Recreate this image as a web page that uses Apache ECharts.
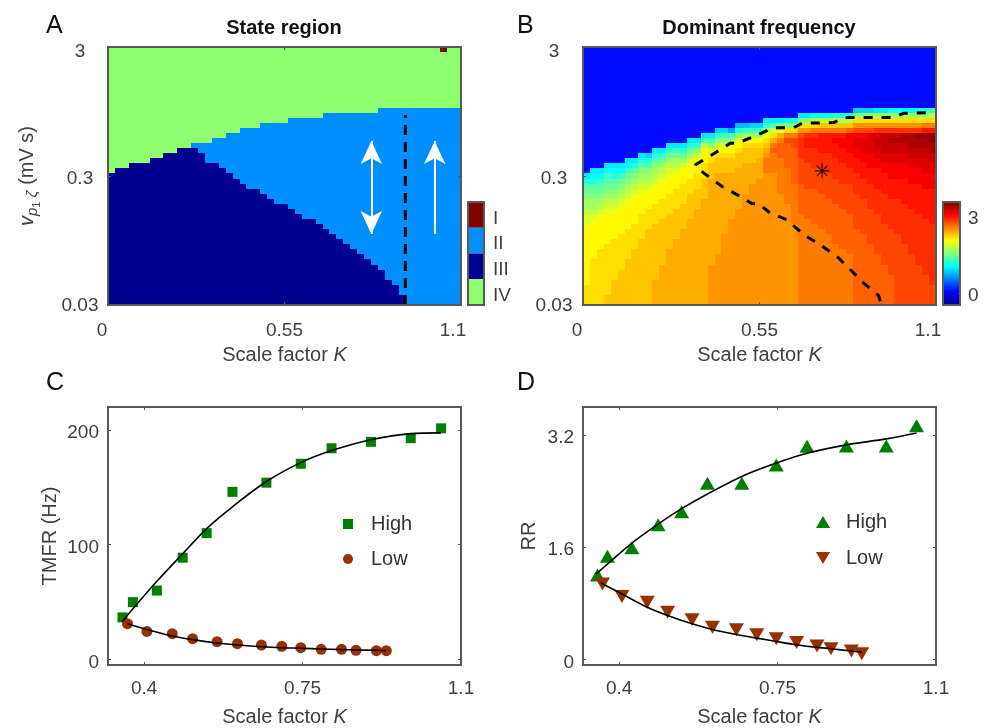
<!DOCTYPE html>
<html><head><meta charset="utf-8">
<script src="https://cdn.jsdelivr.net/npm/echarts@6/dist/echarts.min.js"></script>
<style>html,body{margin:0;padding:0;background:#fff}#c{width:992px;height:728px}</style>
</head><body><div id="c"></div>
<script>
// ---------- data ----------
const stateLabels = ['IV','III','II','I'];
// Panel A: for each of 51 K columns, rows (from the bottom) that are not state IV
const nonIVTop = [26,27,27,28,28,28,29,29,30,30,31,31,32,32,32,33,33,34,34,35,35,35,36,36,36,36,37,37,37,37,37,38,38,38,38,38,38,38,38,39,39,39,39,39,39,39,39,39,39,39,39];
// Panel A: for each column, rows (from the bottom) that are state III
const stateIIITop = [26,27,27,28,28,28,29,29,30,30,31,31,31,30,28,28,27,26,25,24,23,23,22,21,20,20,19,18,17,17,16,15,14,13,12,11,10,9,8,7,5,4,2,0,0,0,0,0,0,0,0];
const stateICell = [48,50];
// Panel B: dominant frequency, one string per column, bottom to top, base-36 tenths
const freqColumns = [
"mmmmlllllllllllkjjihhgfeca",
"mmmmmmmmmlllllllkjihhgfecba",
"mmmmmmmmmmmllllllkjihgfedba",
"nnmmmmmmmmmmllllllkjihgfedba",
"nnnnnmmmmmmmmlllllkjihgfecba",
"nnnnnnnmmmmmmmlllllkjihgfdba",
"nnnnnnnnnmmmmmmlllllkjihgfdba",
"nnnnnnnnnnnmmmmmlllllkjihgeca",
"nnnnnnnnnnnnnmmmmmllllkjihgeca",
"nnnnnnnnnnnnnnnmmmmlllkjihgec9",
"ooooonnnnnnnnnnnmmmmlllkjihgeca",
"oooooooonnnnnnnnnmmmmlllkjihfda",
"ooooooooooonnnnnnnmmmmlllkjihfda",
"ooooooooooooonnnnnnmmmmllljihfda",
"ooooooooooooooonnnnnmmmmllljhfca",
"ooooooooooooooooonnnnnmmmllljhfca",
"ooooooooooooooooooonnnnmmmllljgda",
"ooooooooooooooooooooonnnnmmmllliea",
"ppppppppooooooooooooooooonnnmljgda",
"ppppppppppoooooooooooooooonnnmljgd9",
"ppppppppppppppoooooooooooonnnmljgd9",
"pppppppppppppppppooooooooonnnmlkgd7",
"pppppppppppppppppppoooooooonnnmlkgc8",
"ppppppppppppppppppppppoooooonnnmlhd8",
"ppppppppppppppppppppppppoooonnnmlhd9",
"pppppppppppppppppppppppppoooonnmlhd9",
"ppppppppppppppppppppppppppqqqponmlhda",
"ppppppppppppppppppppppppppqqqqrqomjea",
"ppppppppppppppppppppppqqqqqqqrrrqolfa",
"ppppppppppppppppppppqqqqqqqrrrrrsqmgb",
"ppppppppppppppppqqqqqqqqrrrrrrrssqmgb",
"qqqqqqqqqqqqqqqqqqrrrrrrsssssttttspmga",
"qqqqqqqqqqqqqqqqqrrrrrrsssssttt"+"uutpmga",
"qqqqqqqqqqqqqqqqrrrrrrrssssttttuutqmhb",
"qqqqqqqqqqqqqqqrrrrrrrsssssttt"+"uuuuqnib",
"qqqqqqqqqqqqqqrrrrrrrsssssttttuuuuqnib",
"qqqqqqqqqqqqrrrrrrrrsssssttttuuuvuqnic",
"qqqqqqqqqqqrrrrrrrrsssssttttuuuvvuqnic",
"qqqqqqqqqqrrrrrrrrssssssttt"+"uuuvvvvrnic",
"rrrrrrrrrrrrrrrsssssssttttuuuvvwwvspmg9",
"rrrrrrrrrrrrrrsssssssttttuuuvvwwwvspmg9",
"rrrrrrrrrrrrsssssssttttt"+"uuuvvvwwwwspmg9",
"rrrrrrrrrrssssssssttttt"+"uuuuvvwwxxwtpmha",
"rrrrrrrrssssssssttttttuuuuvvwwxxxxtpmha",
"rrrrrrsssssssssttttttuuuuvvvwwxxyxtpmhb",
"ssssssssssssssttttttt"+"uuuuvvvwwxxyxtpmhb",
"sssssssssssstttttttt"+"uuuuuvvvwwxxyytpmhb",
"sssssssssstttttttttuuuuuvvvwwxxyyytpmhb",
"sssssssstttttttttt"+"uuuuuuvvvwwxxyyztpmhc",
"sssssstttttttttttuuuuuuvvvwwwxxyyzuqmhc",
"sssstttttttttttt"+"uuuuuuuvvvwwxxyyzzuqmid"
];
const freqTicks = [0,3];
const kTicksMap = [0,0.55,1.1];
const kTickLabelsMap = ['0','0.55','1.1'];
const decadeTicks = [0,1,2];
const vTickLabels = ['0.03','0.3','3'];
// Panel A dashed line and arrows (K, decades above 0.03)
const dashA = [[0.9265,0],[0.9265,1.473]];
const arrowDouble = [[0.8206,0.55],[0.8206,1.272]];
const arrowSingle = [[1.018,0.55],[1.018,1.272]];
// Panel B dashed boundary and star
const dashB = [[0.9266,0.028],[0.9214,0.072],[0.8746,0.17],[0.7967,0.364],[0.7396,0.467],[0.6876,0.545],[0.6357,0.661],[0.5838,0.712],[0.5474,0.785],[0.5267,0.785],[0.4903,0.841],[0.4332,0.919],[0.3656,1.043],[0.35,1.086],[0.4072,1.172],[0.4591,1.254],[0.4799,1.254],[0.5267,1.3],[0.5942,1.375],[0.6565,1.375],[0.6824,1.409],[0.7811,1.414],[0.8123,1.453],[0.9681,1.453],[0.9992,1.486],[1.0927,1.492]];
const starB = [[0.745,1.04]];
// Panel C
const kTicksLine = [0.4,0.75,1.1];
const tmfrTicks = [0,100,200];
const tmfrHigh = [[0.352,36.5],[0.375,49.8],[0.428,59.9],[0.485,88.6],[0.538,110],[0.595,146],[0.67,154],[0.746,170.5],[0.814,184],[0.901,189.6],[0.989,192.8],[1.056,201.4]];
const tmfrLow = [[0.363,31],[0.406,24.3],[0.462,22.3],[0.507,18],[0.561,15.3],[0.606,13.6],[0.659,12.4],[0.704,11.3],[0.746,10.1],[0.791,8.7],[0.836,8.7],[0.868,7.8],[0.913,7.5],[0.935,7.5]];
const tmfrHighFit = [[0.352,33],[0.375,44],[0.428,68],[0.485,92],[0.538,114],[0.595,133],[0.67,155],[0.746,171.5],[0.814,182],[0.901,191.5],[0.989,196.8],[1.056,197.4]];
const tmfrLowFit = [[0.363,31],[0.406,26],[0.462,20.3],[0.507,17.1],[0.561,14.2],[0.606,12.4],[0.659,11],[0.704,10.1],[0.746,9.6],[0.791,9],[0.836,8.4],[0.868,8.1],[0.913,7.8],[0.935,7.5]];
// Panel D
const rrTicks = [0,1.6,3.2];
const rrHigh = [[0.352,1.204],[0.374,1.47],[0.428,1.593],[0.486,1.92],[0.538,2.105],[0.595,2.513],[0.671,2.513],[0.747,2.773],[0.815,3.04],[0.902,3.043],[0.99,3.043],[1.057,3.333]];
const rrLow = [[0.363,1.076],[0.406,0.896],[0.462,0.815],[0.507,0.673],[0.561,0.564],[0.606,0.46],[0.659,0.422],[0.704,0.351],[0.747,0.294],[0.792,0.242],[0.837,0.19],[0.868,0.152],[0.913,0.119],[0.936,0.081]];
const rrHighFit = [[0.349,1.218],[0.374,1.36],[0.428,1.66],[0.486,1.93],[0.538,2.15],[0.595,2.36],[0.671,2.61],[0.747,2.80],[0.815,2.94],[0.902,3.06],[0.99,3.145],[1.057,3.23]];
const rrLowFit = [[0.36,1.09],[0.406,0.934],[0.462,0.744],[0.507,0.626],[0.561,0.507],[0.606,0.427],[0.659,0.356],[0.704,0.303],[0.747,0.256],[0.792,0.209],[0.837,0.171],[0.868,0.152],[0.913,0.119],[0.936,0.104]];

// ---------- build ----------
const FONT = '"Liberation Sans", Arial, sans-serif';
const TXT = '#404040', BOX = '#595959';
const NC = 51, NR = 51, KMAX = 1.1, DEC = 2;
const cw = KMAX/NC, ch = DEC/NR;
const green = '#007f00', brown = '#983000';
const FMIN = -0.44, FMAX = 3.58;
const jet = ['#00008f','#0000ff','#0080ff','#00ffff','#80ff80','#ffff00','#ff8000','#ff0000','#800000'];

const stateData = [], freqData = [];
for (let c=0;c<NC;c++) for (let r=0;r<NR;r++){
  let s = r < stateIIITop[c] ? 3 : r < nonIVTop[c] ? 2 : 4;
  if (c===stateICell[0] && r===stateICell[1]) s = 1;
  stateData.push([c*cw, r*ch, s]);
  const ch36 = freqColumns[c][r];
  const f = ch36===undefined ? 0.1 : parseInt(ch36,36)/10;
  freqData.push([c*cw, r*ch, f]);
}
const cellRender = (params, api) => {
  const p0 = api.coord([api.value(0), api.value(1)]);
  const p1 = api.coord([api.value(0)+cw, api.value(1)+ch]);
  const x0=Math.round(p0[0]), x1=Math.round(p1[0]), y0=Math.round(p1[1]), y1=Math.round(p0[1]);
  return {type:'rect', shape:{x:x0,y:y0,width:x1-x0,height:y1-y0}, style:{fill:api.visual('color')}};
};
const cbarLevels = [];
for (let i=0;i<103;i++) cbarLevels.push(FMIN+(i+0.5)*(FMAX-FMIN)/103);
const cbarStep = (FMAX-FMIN)/103;
const cbarFreqRender = (params, api) => {
  const p0 = api.coord([0, api.value(1)-cbarStep/2]);
  const p1 = api.coord([1, api.value(1)+cbarStep/2]);
  return {type:'rect', shape:{x:p0[0],y:Math.floor(p1[1]),width:p1[0]-p0[0],height:Math.ceil(p0[1])-Math.floor(p1[1])}, style:{fill:api.visual('color')}};
};
const cbarStateRender = (params, api) => {
  const c = api.coord([0, api.value(1)]);
  const e = api.coord([1, api.value(1)]);
  const h = api.size([0,1])[1];
  return {type:'rect', shape:{x:c[0],y:c[1]-h/2,width:e[0]-c[0],height:h}, style:{fill:api.visual('color')}};
};

const grids = [
  {left:108,top:47,width:353,height:258},
  {left:583,top:47,width:353,height:258},
  {left:108,top:407,width:353,height:259},
  {left:583,top:407,width:353,height:259},
  {left:468,top:202,width:16,height:103},
  {left:943,top:202,width:17,height:103}
];
const line = {show:true,onZero:false,lineStyle:{color:BOX,width:2}};
const hiddenLab = {show:false};
const tick = vals => ({show:true,inside:true,length:3,lineStyle:{color:BOX,width:1},customValues:vals});
const noTick = {show:false};
const labelBase = {color:TXT,fontSize:19,fontFamily:FONT};
const nameRich = {a:{color:TXT,fontSize:20,fontFamily:FONT},b:{color:TXT,fontSize:20,fontFamily:FONT,fontStyle:'italic'}};
const xName = '{a|Scale factor }{b|K}';

function xPair(i, min, max, ticks, label, nameGap){
  return [
   {type:'value',gridIndex:i,min,max,position:'bottom',z:6,axisLine:line,axisTick:tick(ticks),splitLine:{show:false},axisLabel:label,
    name:xName,nameLocation:'middle',nameGap,nameTextStyle:{rich:nameRich}},
   {type:'value',gridIndex:i,min,max,position:'top',z:6,axisLine:line,axisTick:tick(ticks),splitLine:{show:false},axisLabel:hiddenLab}
  ];
}
function yPair(i, min, max, ticks, label, name, nameGap, rich){
  return [
   {type:'value',gridIndex:i,min,max,position:'left',z:6,axisLine:line,axisTick:tick(ticks),splitLine:{show:false},axisLabel:label,
    name,nameLocation:'middle',nameGap,nameRotate:90,nameTextStyle:{color:TXT,fontSize:20,fontFamily:FONT,rich}},
   {type:'value',gridIndex:i,min,max,position:'right',z:6,axisLine:line,axisTick:tick(ticks),splitLine:{show:false},axisLabel:hiddenLab}
  ];
}
const kMapLabel = {...labelBase,margin:16,customValues:kTicksMap,
  formatter:v=>{const i=kTicksMap.indexOf(v);return i===0?'{l|'+kTickLabelsMap[0]+'}':i===2?'{r|'+kTickLabelsMap[2]+'}':kTickLabelsMap[i];},
  rich:{l:{...labelBase,padding:[0,12,0,0]},r:{...labelBase,padding:[0,16,0,0]}}};
const vLabel = m=>({...labelBase,margin:m,align:'center',customValues:decadeTicks,
  formatter:v=>v===2?'{t|'+vTickLabels[2]+'}':v===1?'{m|'+vTickLabels[1]+'}':'{b|'+vTickLabels[0]+'}',
  rich:{t:{...labelBase,padding:[10,0,0,0]},m:{...labelBase,padding:[6,0,0,0]},b:{...labelBase,padding:[2,0,0,0]}}});
const lineX = {...labelBase,margin:14,customValues:kTicksLine,formatter:v=>String(v)};
const lineY = t=>({...labelBase,margin:9,customValues:t,formatter:v=>'{c|'+v+'}',rich:{c:{...labelBase,padding:[6,0,0,0]}}});
const vRich = {
  v:{color:TXT,fontSize:20,fontFamily:FONT,fontStyle:'italic'},
  p:{color:TXT,fontSize:15,fontFamily:FONT,fontStyle:'italic',padding:[10,0,0,0]},
  o:{color:TXT,fontSize:11,fontFamily:FONT,padding:[18,0,0,0]},
  z:{color:TXT,fontSize:15,fontFamily:FONT,fontStyle:'italic',padding:[10,0,0,0]},
  r:{color:TXT,fontSize:20,fontFamily:FONT}
};
const vName = '{v|v}{p|p}{o|1}{z| ζ}{r| (mV s)}';

const xAxis = [
  ...xPair(0,0,KMAX,kTicksMap,kMapLabel,40),
  ...xPair(1,0,KMAX,kTicksMap,kMapLabel,40),
  ...xPair(2,0.32,KMAX,kTicksLine,lineX,42),
  ...xPair(3,0.32,KMAX,kTicksLine,lineX,42),
  {type:'value',gridIndex:4,min:0,max:1,position:'bottom',z:6,axisLine:line,axisTick:noTick,axisLabel:hiddenLab,splitLine:{show:false}},
  {type:'value',gridIndex:4,min:0,max:1,position:'top',z:6,axisLine:line,axisTick:noTick,axisLabel:hiddenLab,splitLine:{show:false}},
  {type:'value',gridIndex:5,min:0,max:1,position:'bottom',z:6,axisLine:line,axisTick:noTick,axisLabel:hiddenLab,splitLine:{show:false}},
  {type:'value',gridIndex:5,min:0,max:1,position:'top',z:6,axisLine:line,axisTick:noTick,axisLabel:hiddenLab,splitLine:{show:false}}
];
const yAxis = [
  ...yPair(0,0,DEC,decadeTicks,vLabel(28),vName,66,vRich),
  ...yPair(1,0,DEC,decadeTicks,vLabel(29),'',60),
  ...yPair(2,-5,220,tmfrTicks,lineY(tmfrTicks),'TMFR (Hz)',48),
  ...yPair(3,-0.08,3.6,rrTicks,lineY(rrTicks),'RR',44),
  {type:'category',gridIndex:4,data:stateLabels,position:'right',z:6,axisLine:line,axisTick:noTick,
    axisLabel:{...labelBase,margin:9,formatter:v=>'{c|'+v+'}',rich:{c:{...labelBase,padding:[7,0,0,0]}}}},
  {type:'category',gridIndex:4,data:stateLabels,position:'left',z:6,axisLine:line,axisTick:noTick,axisLabel:hiddenLab},
  {type:'value',gridIndex:5,min:FMIN,max:FMAX,position:'right',z:6,axisLine:line,axisTick:{show:true,inside:true,length:2,lineStyle:{color:BOX},customValues:freqTicks},
    axisLabel:{...labelBase,margin:8,customValues:freqTicks,formatter:v=>'{c|'+v+'}',rich:{c:{...labelBase,padding:[4,0,0,0]}}},splitLine:{show:false}},
  {type:'value',gridIndex:5,min:FMIN,max:FMAX,position:'left',z:6,axisLine:line,axisTick:noTick,axisLabel:hiddenLab,splitLine:{show:false}}
];
const ax = i=>({xAxisIndex:2*i,yAxisIndex:2*i});
const downTri = 'path://M0,0 L14,0 L7,12 Z';
const upTri = 'path://M0,12 L14,12 L7,0 Z';
const fit = (i,data)=>({type:'line',...ax(i),data,smooth:0.3,symbol:'none',z:5,lineStyle:{color:'#000',width:1.6},silent:true});
const pts = (i,name,data,symbol,size,color)=>({type:'scatter',...ax(i),name,data,symbol,symbolSize:size,itemStyle:{color,opacity:1},z:4});

const series = [
  {type:'custom',...ax(0),data:stateData,renderItem:cellRender,encode:{x:0,y:1},z:2,silent:true},
  {type:'custom',...ax(1),data:freqData,renderItem:cellRender,encode:{x:0,y:1},z:2,silent:true},
  {type:'custom',xAxisIndex:8,yAxisIndex:8,data:[[0,3,1],[0,2,2],[0,1,3],[0,0,4]],renderItem:cbarStateRender,encode:{x:0,y:1},z:2,silent:true},
  {type:'custom',xAxisIndex:10,yAxisIndex:10,data:cbarLevels.map(v=>[0,v,v]),renderItem:cbarFreqRender,encode:{x:0,y:1},z:2,silent:true},
  {type:'line',...ax(0),data:dashA,symbol:'none',z:4,lineStyle:{color:'#000',width:3,type:[10,7]},silent:true,
    markLine:{silent:true,animation:false,symbolSize:[16,23],label:{show:false},lineStyle:{color:'#fff',width:2,type:'solid'},
      data:[
        [{coord:arrowDouble[0],symbol:'arrow'},{coord:arrowDouble[1],symbol:'arrow'}],
        [{coord:arrowSingle[0],symbol:'none'},{coord:arrowSingle[1],symbol:'arrow'}]
      ]}},
  {type:'line',...ax(1),data:dashB,symbol:'none',z:4,lineStyle:{color:'#000',width:3,type:[9,9]},silent:true},
  {type:'scatter',...ax(1),data:starB,symbol:'path://M10 0V20M0 10H20M3 3L17 17M17 3L3 17',symbolSize:15,z:5,silent:true,
    itemStyle:{color:'rgba(0,0,0,0)',borderColor:'#000',borderWidth:1.2}},
  pts(2,'High',tmfrHigh,'rect',10,green),
  pts(2,'Low',tmfrLow,'circle',11,brown),
  fit(2,tmfrHighFit), fit(2,tmfrLowFit),
  pts(3,'High RR',rrHigh,upTri,[15,13],green),
  pts(3,'Low RR',rrLow,downTri,[15,13],brown),
  fit(3,rrHighFit), fit(3,rrLowFit)
];
const legendText = {color:'#333',fontSize:20,fontFamily:FONT};
const legendBase = {orient:'vertical',padding:0,selectedMode:false,formatter:n=>n.split(' ')[0]};
const letter = (text,left,top)=>({text,left,top,textStyle:{fontSize:25,fontWeight:'normal',color:'#111',fontFamily:FONT}});
const option = {
  animation:false,
  title:[
    letter('A',41,9),letter('B',512,9),letter('C',41,366),letter('D',512,366),
    {text:'State region',left:279,top:13,textAlign:'center',textStyle:{fontSize:20,fontWeight:'bold',color:'#111',fontFamily:FONT}},
    {text:'Dominant frequency',left:754,top:13,textAlign:'center',textStyle:{fontSize:20,fontWeight:'bold',color:'#111',fontFamily:FONT}}
  ],
  grid:grids, xAxis, yAxis,
  visualMap:[
    {type:'piecewise',show:false,seriesIndex:[0,2],dimension:2,
      pieces:[{value:1,color:'#800000'},{value:2,color:'#008fff'},{value:3,color:'#00008f'},{value:4,color:'#8fff70'}]},
    {type:'continuous',show:false,seriesIndex:[1,3],dimension:2,min:FMIN,max:FMAX,inRange:{color:jet}}
  ],
  legend:[
    {...legendBase,data:['High','Low'],left:343,top:514,itemWidth:10,itemHeight:10,itemGap:15,textStyle:{...legendText,padding:[0,0,0,13]}},
    {...legendBase,data:['High RR','Low RR'],left:816,top:512,itemWidth:14,itemHeight:12,itemGap:16,textStyle:{...legendText,padding:[0,0,0,11]}}
  ],
  series
};
const chart = echarts.init(document.getElementById('c'),null,{renderer:'canvas'});
chart.setOption(option);
</script></body></html>
